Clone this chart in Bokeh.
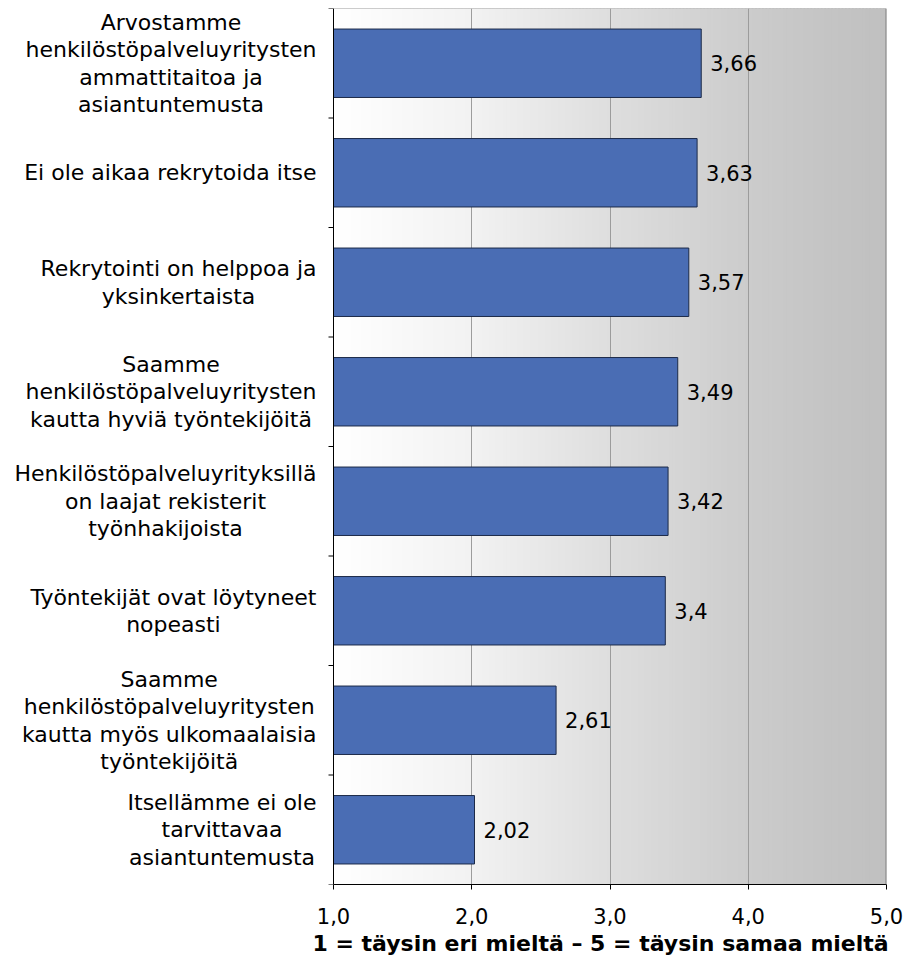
import numpy as np
from bokeh.plotting import figure
from bokeh.models import Range1d, FixedTicker, Span, ColumnDataSource, Title
from bokeh.core.properties import value
from bokeh.embed import file_html
from bokeh.resources import INLINE

# ---- data ----
categories = [
    "Arvostamme\nhenkilöstöpalveluyritysten\nammattitaitoa ja\nasiantuntemusta",
    "Ei ole aikaa rekrytoida itse",
    "Rekrytointi on helppoa ja\nyksinkertaista",
    "Saamme\nhenkilöstöpalveluyritysten\nkautta hyviä työntekijöitä",
    "Henkilöstöpalveluyrityksillä\non laajat rekisterit\ntyönhakijoista",
    "Työntekijät ovat löytyneet\nnopeasti",
    "Saamme\nhenkilöstöpalveluyritysten\nkautta myös ulkomaalaisia\ntyöntekijöitä",
    "Itsellämme ei ole\ntarvittavaa\nasiantuntemusta",
]
values = [3.66, 3.63, 3.57, 3.49, 3.42, 3.40, 2.61, 2.02]
x_ticks = [1, 2, 3, 4, 5]
x_tick_labels = ["1,0", "2,0", "3,0", "4,0", "5,0"]
axis_title = "1 = täysin eri mieltä – 5 = täysin samaa mieltä"

# ---- layout constants ----
FONT = "DejaVu Sans"
FRAME_W = 886          # frame spans from page x=0 to 886
AXIS_PX = 333          # where value 1.0 sits
XMIN, XMAX = 1.0, 5.0
ppu = (FRAME_W - AXIS_PX) / (XMAX - XMIN)
x_start = XMIN - AXIS_PX / ppu
tick_len = 5 / ppu

n = len(categories)
ypos = [n - 1 - i for i in range(n)]
value_labels = [f"{v:g}".replace(".", ",") for v in values]
ylo, yhi = -0.5, n - 0.5

W, H = 905, 962
p = figure(width=W, height=H,
           x_range=Range1d(x_start, XMAX), y_range=Range1d(ylo, yhi),
           output_backend="svg", toolbar_location=None,
           y_axis_location=None,
           min_border_left=0, min_border_right=W - FRAME_W,
           min_border_top=8, min_border_bottom=78)
p.background_fill_color = "white"
p.border_fill_color = "white"
p.outline_line_color = None

# background gradient (decoration)
stops_x = [1.0, 2.0, 3.0, 4.0, 4.5, 5.0]
stops_g = [255, 242, 222, 204, 197, 192]
edges = np.linspace(XMIN, XMAX, 161)
mids = (edges[:-1] + edges[1:]) / 2
grays = np.interp(mids, stops_x, stops_g).round().astype(int)
bg_colors = ["#%02x%02x%02x" % (g, g, g) for g in grays]
step = edges[1] - edges[0]
rights = np.minimum(edges[1:] + step * 0.5, XMAX)
p.quad(left=edges[:-1], right=rights, bottom=ylo, top=yhi,
       fill_color=bg_colors, line_color=None, level="image")

# grid
p.ygrid.visible = False
p.xgrid.ticker = FixedTicker(ticks=[2, 3, 4])
p.xgrid.grid_line_color = "#9c9c9c"
p.xgrid.grid_line_width = 1

# bars
src = ColumnDataSource(dict(y=ypos, v=values, lab=value_labels))
p.hbar(y="y", left=XMIN, right="v", height=0.625, source=src,
       fill_color="#4a6db4", line_color="#1c2a48", line_width=1)

p.text(x="v", y="y", text="lab", source=src, x_offset=9,
       text_align="left", text_baseline="middle",
       text_font=value(FONT), text_font_size="21px", text_color="black")

# category labels: block right-aligned to the axis, lines centred
csrc = ColumnDataSource(dict(y=ypos, t=categories))
p.text(x=XMIN, y="y", text="t", source=csrc, x_offset=-17,
       text_align="center", anchor="center_right", text_baseline="middle",
       text_line_height=1.1,
       text_font=value(FONT), text_font_size="22px", text_color="black")

# frame borders and left axis
p.segment(x0=XMIN, y0=yhi, x1=XMAX, y1=yhi, line_color="#9a9a9a", line_width=1)
p.add_layout(Span(location=XMAX, dimension="height", line_color="#7f7f7f", line_width=2))
p.add_layout(Span(location=XMIN, dimension="height", line_color="black", line_width=1))
yb = [k - 0.5 for k in range(n + 1)]
p.segment(x0=[XMIN - tick_len] * len(yb), y0=yb, x1=[XMIN] * len(yb), y1=yb,
          line_color="black", line_width=1)

# x axis
xa = p.xaxis[0]
xa.bounds = (XMIN, XMAX)
xa.ticker = FixedTicker(ticks=x_ticks)
xa.major_label_overrides = {t: l for t, l in zip(x_ticks, x_tick_labels)}
xa.major_label_text_font = FONT
xa.major_label_text_font_size = "21px"
xa.major_label_text_color = "black"
xa.major_label_standoff = 18
xa.major_tick_in = 0
xa.major_tick_out = 5
xa.minor_tick_line_color = None
xa.axis_line_color = "black"
xa.major_tick_line_color = "black"

p.add_layout(Title(text=axis_title, align="left", offset=312, standoff=5,
                   text_font=FONT, text_font_size="22px",
                   text_font_style="bold", text_color="black"), "below")

open("out.html", "w").write(file_html(p, INLINE))
